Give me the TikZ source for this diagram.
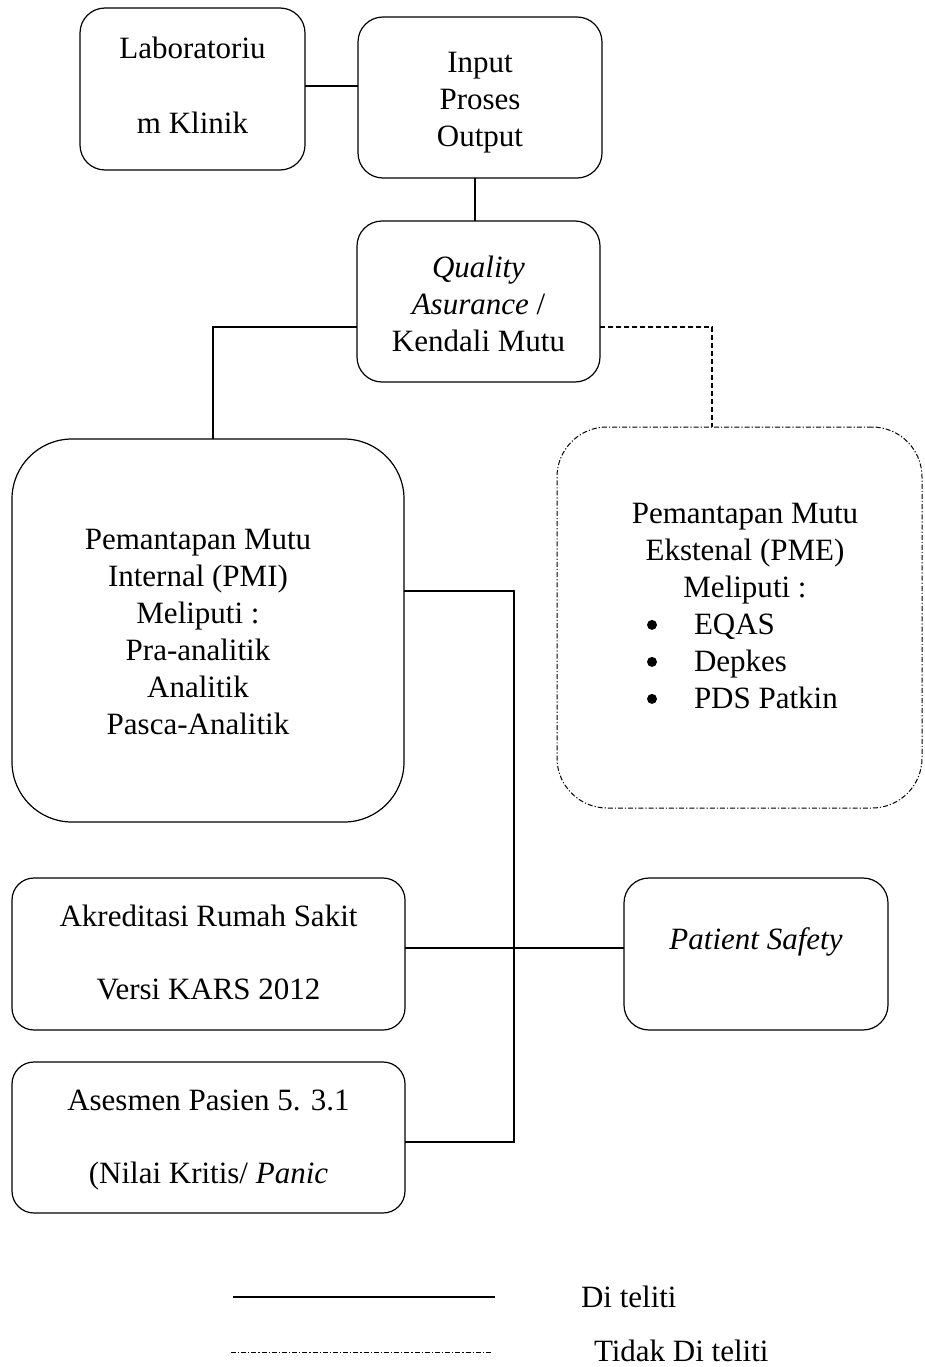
\documentclass[tikz,border=0pt]{standalone}
\usepackage{fontspec}
\usepackage{pict2e}
\setmainfont{Liberation Serif}
\newcommand{\mybt}[2][0pt]{\raisebox{#1}[\height][\depth]{\begin{tabular}{@{}c@{}}#2\end{tabular}}}
\newcommand{\mybul}{{\setlength{\unitlength}{1pt}\begin{picture}(10,0)\put(5,9.5){\circle*{10}}\end{picture}}}
\begin{document}
\begin{tikzpicture}[x=1pt,y=-1pt,
  every node/.style={font=\fontsize{31}{37}\selectfont, inner sep=0pt, outer sep=0pt, text=black},
  bx/.style={draw, line width=1.2pt, rounded corners=25pt},
  bigbx/.style={draw, line width=1.2pt, rounded corners=60pt},
  pmebx/.style={draw, line width=1pt, rounded corners=50pt, dash pattern=on 5pt off 2pt on 1.2pt off 2pt},
  conn/.style={line width=1.2pt},
  dashconn/.style={line width=1.2pt, dash pattern=on 5pt off 3pt},
  dashdotline/.style={line width=1pt, dash pattern=on 5pt off 2pt on 1.2pt off 2pt}
]
\useasboundingbox (0,0) rectangle (924,1367);

% boxes
\node[bx, minimum width=225pt, minimum height=162pt] (lab) at (192.5,89)
  {\mybt[0pt]{Laboratoriu\\[38pt]m Klinik}};
\node[bx, minimum width=244pt, minimum height=161pt] (io) at (480,97.5)
  {\mybt[-5pt]{Input\\Proses\\Output}};
\node[bx, minimum width=243pt, minimum height=161pt] (qa) at (478.5,301.5)
  {\mybt[-6pt]{\textit{Quality}\\\textit{Asurance} /\\Kendali Mutu}};
\node[bigbx, minimum width=392pt, minimum height=383pt] (pmi) at (208,630.5)
  {\mybt[-4pt]{Pemantapan Mutu\\Internal (PMI)\\Meliputi :\\Pra-analitik\\Analitik\\Pasca-Analitik}\hspace*{20pt}};
\node[pmebx, minimum width=365pt, minimum height=381pt] (pme) at (739.5,617.5)
  {\hspace*{11pt}\mybt[9pt]{Pemantapan Mutu\\Ekstenal (PME)\\Meliputi :\\
   \makebox[226pt][l]{\hspace{15pt}\makebox[47pt][l]{\mybul}EQAS}\\
   \makebox[226pt][l]{\hspace{15pt}\makebox[47pt][l]{\mybul}Depkes}\\
   \makebox[226pt][l]{\hspace{15pt}\makebox[47pt][l]{\mybul}PDS Patkin}}};
\node[bx, rounded corners=22pt, minimum width=393pt, minimum height=152pt] (akr) at (208.5,954)
  {\mybt[-2pt]{Akreditasi Rumah Sakit\\[36pt]Versi KARS 2012}};
\node[bx, minimum width=264pt, minimum height=152pt] (ps) at (756,954)
  {\mybt[12pt]{\textit{Patient Safety}}};
\node[bx, rounded corners=22pt, minimum width=393pt, minimum height=151pt] (ases) at (208.5,1137.5)
  {\mybt[-2pt]{Asesmen Pasien 5. 3.1\\[36pt](Nilai Kritis/ \textit{Panic}}};

% connectors
\coordinate (labc) at ([yshift=3pt]lab.east);
\draw[conn] (labc) -- (labc -| io.west);
\coordinate (ios) at ([xshift=-5pt]io.south);
\draw[conn] (ios) -- (ios |- qa.north);
\coordinate (qaw) at ([yshift=-25.5pt]qa.west);
\draw[conn] (qaw) -| ([xshift=5pt]pmi.north);
\coordinate (qae) at ([yshift=-25.5pt]qa.east);
\draw[dashconn] (qae) -| ([xshift=-27.5pt]pme.north);
\coordinate (bus) at (514,948);
\coordinate (pmie) at ([yshift=39.5pt]pmi.east);
\coordinate (asee) at ([yshift=-4.5pt]ases.east);
\draw[conn] (pmie) -| (bus) |- (asee);
\draw[conn] (akr.east |- bus) -- (bus);
\draw[line width=2pt] (bus) -- (bus -| ps.west);

% legend
\node[anchor=west] (leg1) at (581,1297) {Di teliti};
\node[anchor=west] (leg2) at (594,1351) {Tidak Di teliti};
\coordinate (s1a) at (233,1297);
\coordinate (s1b) at (495,1297);
\coordinate (s2a) at (231,1352);
\coordinate (s2b) at (491,1352);
\draw[conn] (s1a) -- (s1b);
\draw[dashdotline] (s2a) -- (s2b);
\end{tikzpicture}
\end{document}
